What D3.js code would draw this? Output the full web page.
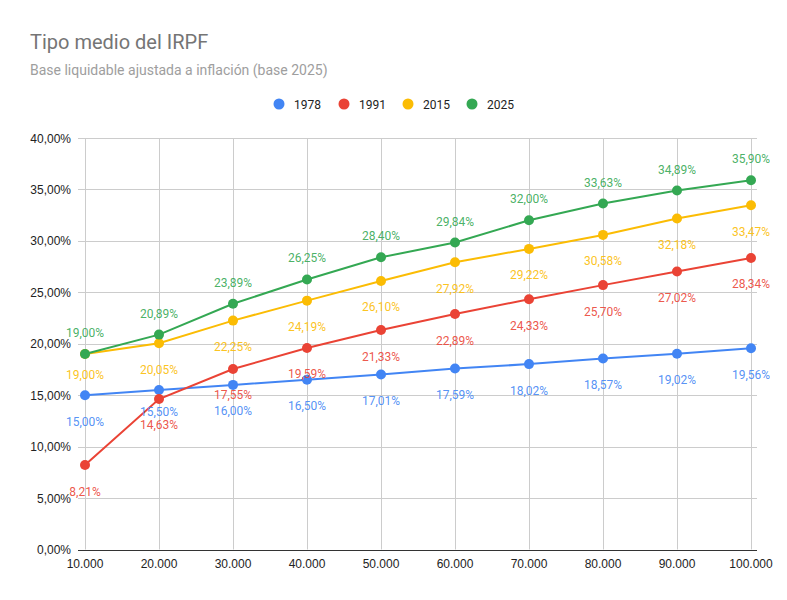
<!DOCTYPE html>
<html><head><meta charset="utf-8">
<script src="https://cdn.jsdelivr.net/npm/d3@7/dist/d3.min.js"></script>
<style>body{margin:0;background:#fff}svg{display:block}</style>
</head><body>
<svg id="c" width="787" height="600"></svg>
<script>
const categories = [10000,20000,30000,40000,50000,60000,70000,80000,90000,100000];
const s1978 = [15.00,15.50,16.00,16.50,17.01,17.59,18.02,18.57,19.02,19.56];
const s1991 = [8.21,14.63,17.55,19.59,21.33,22.89,24.33,25.70,27.02,28.34];
const s2015 = [19.00,20.05,22.25,24.19,26.10,27.92,29.22,30.58,32.18,33.47];
const s2025 = [19.00,20.89,23.89,26.25,28.40,29.84,32.00,33.63,34.89,35.90];
const seriesNames = ["1978","1991","2015","2025"];
const yTicks = [0,5,10,15,20,25,30,35,40];

const colors = {"1978":"#4285F4","1991":"#EA4335","2015":"#FBBC04","2025":"#34A853"};
const labelPos = {"1978":"below","1991":"below","2015":"below","2025":"above"};
const seriesData = {"1978":s1978,"1991":s1991,"2015":s2015,"2025":s2025};
// small label nudges (collision avoidance in the original)
const nudge = {"2015-0":-6,"1978-1":-5};

const svg = d3.select("#c");
const fmtPct = v => v.toFixed(2).replace(".", ",") + "%";
const fmtNum = v => d3.format(",")(v).replace(/,/g, ".");

const x = d3.scaleLinear().domain([10000,100000]).range([85,751]);
const y = d3.scaleLinear().domain([0,40]).range([549.5,138]);
const plotL = 78, plotR = 757;

svg.append("text").attr("x",30).attr("y",49).attr("font-family","Roboto, Arial, sans-serif")
  .attr("font-size",20).attr("fill","#757575").text("Tipo medio del IRPF");
svg.append("text").attr("x",30).attr("y",75).attr("font-family","Roboto, Arial, sans-serif")
  .attr("font-size",14).attr("fill","#9e9e9e").text("Base liquidable ajustada a inflación (base 2025)");

// gridlines
const g = svg.append("g");
g.selectAll(".hg").data(yTicks.filter(d=>d!==0)).join("line")
  .attr("x1",plotL).attr("x2",plotR).attr("y1",d=>Math.round(y(d))+0.5).attr("y2",d=>Math.round(y(d))+0.5)
  .attr("stroke","#cccccc").attr("stroke-width",1);
g.selectAll(".vg").data(categories).join("line")
  .attr("x1",d=>Math.round(x(d))+0.5).attr("x2",d=>Math.round(x(d))+0.5)
  .attr("y1",y(40)).attr("y2",y(0)).attr("stroke","#cccccc");
g.append("line").attr("x1",plotL).attr("x2",plotR).attr("y1",Math.round(y(0))+0.5).attr("y2",Math.round(y(0))+0.5)
  .attr("stroke","#333");

// axes labels
svg.append("g").selectAll("text").data(yTicks).join("text")
  .attr("x",71).attr("y",d=>y(d)+4.5).attr("text-anchor","end")
  .attr("font-family","Arial, 'Liberation Sans', sans-serif").attr("font-size",12).attr("fill","#222")
  .text(d=>fmtPct(d));
svg.append("g").selectAll("text").data(categories).join("text")
  .attr("x",d=>x(d)).attr("y",568).attr("text-anchor","middle")
  .attr("font-family","Arial, 'Liberation Sans', sans-serif").attr("font-size",12).attr("fill","#222")
  .text(d=>fmtNum(d));

// series
const line = d3.line().x((d,i)=>x(categories[i])).y(d=>y(d));
seriesNames.forEach(n=>{
  const data = seriesData[n];
  const sg = svg.append("g");
  sg.append("path").datum(data).attr("d",line).attr("fill","none")
    .attr("stroke",colors[n]).attr("stroke-width",2);
  sg.selectAll("circle").data(data).join("circle")
    .attr("cx",(d,i)=>x(categories[i])).attr("cy",d=>y(d)).attr("r",5).attr("fill",colors[n]);
});
seriesNames.forEach(n=>{
  const data = seriesData[n];
  svg.append("g").selectAll("text").data(data).join("text")
    .attr("x",(d,i)=>x(categories[i]))
    .attr("y",(d,i)=>(labelPos[n]==="above"? y(d)-17 : y(d)+30.5) + (nudge[n+"-"+i]||0))
    .attr("text-anchor","middle").attr("font-family","Roboto, Arial, sans-serif").attr("font-size",12)
    .attr("fill",colors[n]).attr("fill-opacity",0.9).text(d=>fmtPct(d));
});

// legend
const legX = [279,344,408,472];
const lg = svg.append("g");
seriesNames.forEach((n,i)=>{
  lg.append("circle").attr("cx",legX[i]).attr("cy",104).attr("r",5.5).attr("fill",colors[n]);
  lg.append("text").attr("x",legX[i]+15).attr("y",108.5).attr("font-family","Roboto, Arial, sans-serif")
    .attr("font-size",12).attr("fill","#222").text(n);
});
</script>
</body></html>
